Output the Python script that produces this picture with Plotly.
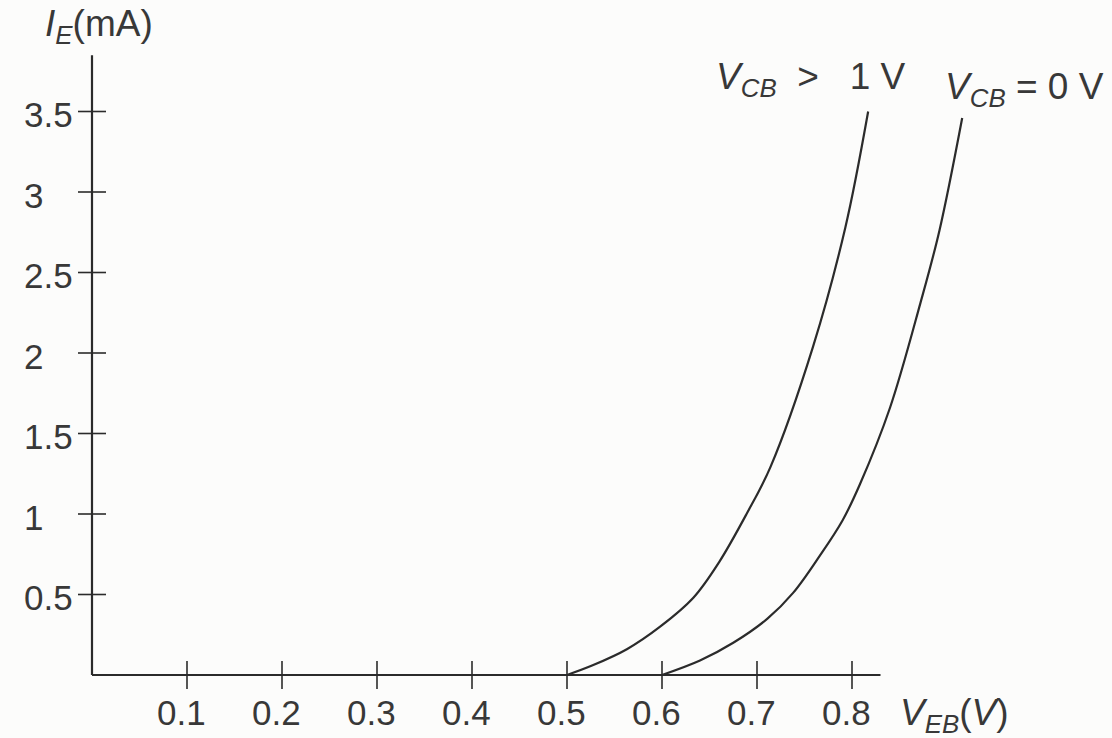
import plotly.graph_objects as go

# Data
v_eb_high = [0.500, 0.527, 0.563, 0.598, 0.633, 0.660, 0.689, 0.714, 0.759, 0.793, 0.817]
ie_high = [0.00, 0.06, 0.16, 0.30, 0.48, 0.70, 1.00, 1.29, 2.04, 2.78, 3.50]

v_eb_zero = [0.600, 0.640, 0.675, 0.711, 0.738, 0.766, 0.790, 0.808, 0.840, 0.872, 0.892, 0.916]
ie_zero = [0.00, 0.09, 0.20, 0.35, 0.51, 0.74, 0.96, 1.18, 1.66, 2.31, 2.76, 3.46]

x_ticks = [0.1, 0.2, 0.3, 0.4, 0.5, 0.6, 0.7, 0.8]
x_tick_labels = ["0.1", "0.2", "0.3", "0.4", "0.5", "0.6", "0.7", "0.8"]
y_ticks = [0.5, 1, 1.5, 2, 2.5, 3, 3.5]
y_tick_labels = ["0.5", "1", "1.5", "2", "2.5", "3", "3.5"]

x_axis_end = 0.83
y_axis_end = 3.85

FONT = "Liberation Sans, Arial, Helvetica, sans-serif"
TXT = "#383838"
LINE = "#2b2b2b"
FS_TICK = 35
FS_LAB = 37

fig = go.Figure()

# axis lines
fig.add_trace(go.Scatter(x=[0, x_axis_end], y=[0, 0], mode="lines",
                         line=dict(color=LINE, width=2.2), hoverinfo="skip"))
fig.add_trace(go.Scatter(x=[0, 0], y=[0, y_axis_end], mode="lines",
                         line=dict(color=LINE, width=2.2), hoverinfo="skip"))
# tick marks crossing axes
fig.add_trace(go.Scatter(x=x_ticks, y=[0] * len(x_ticks), mode="markers",
                         marker=dict(symbol="line-ns", size=20,
                                     line=dict(color=LINE, width=1.6)),
                         hoverinfo="skip"))
fig.add_trace(go.Scatter(x=[0] * len(y_ticks), y=y_ticks, mode="markers",
                         marker=dict(symbol="line-ew", size=20,
                                     line=dict(color=LINE, width=1.6)),
                         hoverinfo="skip"))

# curves
fig.add_trace(go.Scatter(x=v_eb_high, y=ie_high, mode="lines",
                         line=dict(color=LINE, width=2.2, shape="spline", smoothing=1.0),
                         name="V_CB > 1 V"))
fig.add_trace(go.Scatter(x=v_eb_zero, y=ie_zero, mode="lines",
                         line=dict(color=LINE, width=2.2, shape="spline", smoothing=1.0),
                         name="V_CB = 0 V"))

annotations = []
for xv, lab in zip(x_ticks, x_tick_labels):
    annotations.append(dict(x=xv - 0.006, y=-0.23, text=lab, showarrow=False,
                            xanchor="center", yanchor="middle",
                            font=dict(family=FONT, size=FS_TICK, color=TXT)))
for yv, lab in zip(y_ticks, y_tick_labels):
    annotations.append(dict(x=-0.074, y=yv - 0.02, text=lab, showarrow=False,
                            xanchor="left", yanchor="middle",
                            font=dict(family=FONT, size=FS_TICK, color=TXT)))

annotations += [
    dict(x=-0.052, y=4.03, text="<i>I</i><sub><i>E</i></sub>(mA)", showarrow=False,
         xanchor="left", yanchor="middle", font=dict(family=FONT, size=FS_LAB, color=TXT)),
    dict(x=0.848, y=-0.25, text="<i>V</i><sub><i>EB</i></sub>(<i>V</i>)", showarrow=False,
         xanchor="left", yanchor="middle", font=dict(family=FONT, size=FS_LAB, color=TXT)),
    dict(x=0.655, y=3.70, text="<i>V</i><sub><i>CB</i></sub>&nbsp; &gt;&nbsp;&nbsp; 1 V",
         showarrow=False, xanchor="left", yanchor="middle",
         font=dict(family=FONT, size=FS_LAB, color=TXT)),
    dict(x=0.896, y=3.64, text="<i>V</i><sub><i>CB</i></sub> = 0 V", showarrow=False,
         xanchor="left", yanchor="middle", font=dict(family=FONT, size=FS_LAB, color=TXT)),
]

fig.update_layout(
    width=1112, height=738,
    margin=dict(l=0, r=0, t=0, b=0),
    paper_bgcolor="#fcfcfb", plot_bgcolor="#fcfcfb",
    showlegend=False,
    xaxis=dict(range=[-92 / 950, (1112 - 92) / 950], visible=False, fixedrange=True),
    yaxis=dict(range=[(675 - 738) / 161, 675 / 161], visible=False, fixedrange=True),
    annotations=annotations,
)

fig.write_html("out.html", config={"displayModeBar": False},
               post_script="document.body.style.margin='0';document.body.style.overflow='hidden';")
